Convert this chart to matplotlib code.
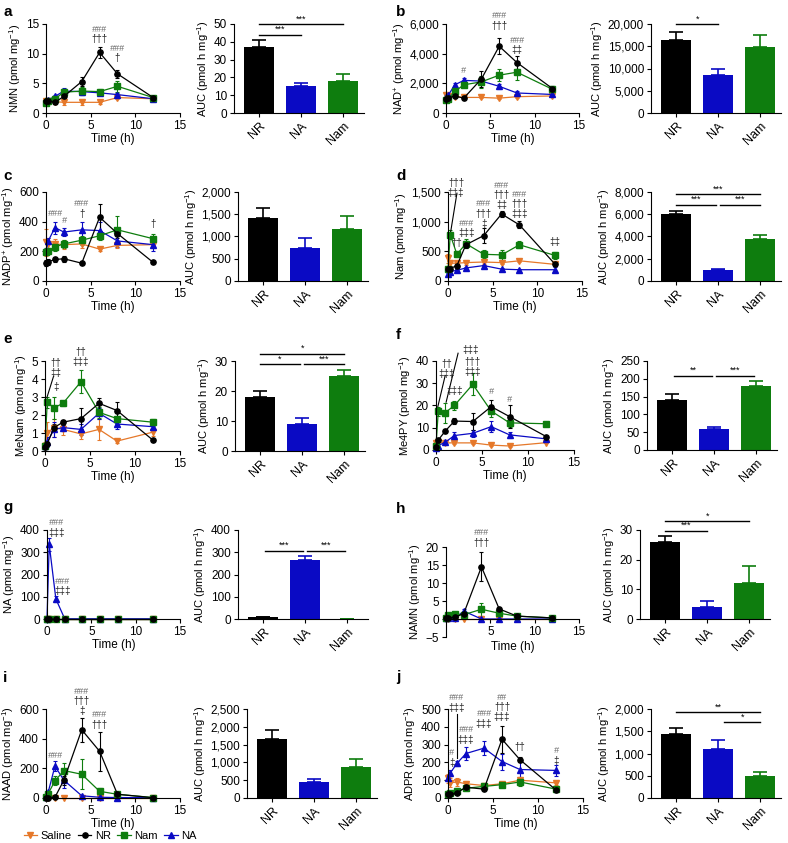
import matplotlib
matplotlib.use('Agg')
import matplotlib.pyplot as plt
from matplotlib.ticker import FuncFormatter
from matplotlib.lines import Line2D

plt.rcParams['font.family'] = ['Liberation Sans', 'DejaVu Sans']
plt.rcParams['mathtext.fontset'] = 'custom'
plt.rcParams['mathtext.rm'] = 'Liberation Sans'
plt.rcParams['font.size'] = 8
plt.rcParams['xtick.labelsize'] = 8.5
plt.rcParams['ytick.labelsize'] = 8.5
plt.rcParams['axes.linewidth'] = 0.8
plt.rcParams['xtick.major.size'] = 3
plt.rcParams['ytick.major.size'] = 3
plt.rcParams['xtick.major.pad'] = 2
plt.rcParams['ytick.major.pad'] = 2

# time points (h)
T = [0, 0.25, 1, 2, 4, 6, 8, 12]
groups = ['Saline', 'NR', 'Nam', 'NA']
bar_groups = ['NR', 'NA', 'Nam']
colors = {'Saline': '#E5782A', 'NR': '#000000', 'Nam': '#0E7D0E', 'NA': '#0A0AC4'}
markers = {'Saline': 'v', 'NR': 'o', 'Nam': 's', 'NA': '^'}

# a - NMN
nmn = {'Saline': [2.0, 2.0, 1.9, 1.8, 1.8, 1.8, 2.6, 2.4],
       'NR': [2.0, 2.1, 1.8, 2.8, 5.3, 10.2, 6.6, 2.6],
       'Nam': [1.7, 2.0, 2.4, 3.5, 3.7, 3.6, 4.5, 2.6],
       'NA': [2.0, 2.2, 2.8, 3.7, 3.6, 3.4, 3.1, 2.4]}
nmn_sem = {'Saline': [0.3, 0.3, 0.3, 0.5, 0.4, 0.3, 0.3, 0.2],
           'NR': [0.3, 0.3, 0.3, 0.5, 0.8, 0.9, 0.7, 0.2],
           'Nam': [0.3, 0.3, 0.3, 0.5, 0.6, 0.5, 0.9, 0.2],
           'NA': [0.2, 0.3, 0.3, 0.5, 0.5, 0.3, 0.2, 0.2]}
nmn_auc = [37, 15, 18]
nmn_auc_sem = [4, 2, 4]

# b - NAD+
nad = {'Saline': [1200, 1150, 1100, 1050, 1050, 1000, 1100, 1150],
       'NR': [950, 1000, 1150, 1000, 2300, 4500, 3400, 1650],
       'Nam': [900, 950, 1450, 1900, 2100, 2550, 2750, 1600],
       'NA': [1100, 1200, 1900, 2200, 2150, 1800, 1350, 1250]}
nad_sem = {'Saline': [200, 200, 100, 50, 50, 50, 80, 80],
           'NR': [150, 150, 100, 100, 550, 550, 450, 200],
           'Nam': [100, 100, 150, 150, 400, 400, 550, 250],
           'NA': [100, 100, 100, 150, 150, 150, 150, 100]}
nad_auc = [16300, 8600, 14800]
nad_auc_sem = [2000, 1200, 2800]

# c - NADP+
nadp = {'Saline': [260, 250, 250, 245, 250, 215, 240, 245],
        'NR': [120, 130, 145, 150, 120, 430, 320, 125],
        'Nam': [195, 200, 230, 250, 275, 305, 345, 285],
        'NA': [200, 270, 360, 330, 345, 340, 270, 245]}
nadp_sem = {'Saline': [90, 40, 30, 30, 30, 10, 20, 20],
            'NR': [20, 20, 15, 20, 5, 90, 30, 5],
            'Nam': [20, 20, 30, 25, 30, 30, 90, 30],
            'NA': [20, 20, 40, 25, 55, 60, 40, 40]}
nadp_auc = [1420, 740, 1160]
nadp_auc_sem = [230, 220, 310]

# d - Nam
nam = {'Saline': [380, 300, 300, 310, 320, 310, 340, 280],
       'NR': [200, 210, 260, 610, 765, 1130, 945, 280],
       'Nam': [200, 780, 450, 630, 450, 440, 610, 430],
       'NA': [120, 160, 180, 220, 260, 200, 190, 190]}
nam_sem = {'Saline': [80, 60, 40, 40, 30, 30, 20, 30],
           'NR': [40, 40, 50, 60, 120, 50, 60, 30],
           'Nam': [40, 80, 50, 70, 70, 80, 60, 60],
           'NA': [20, 20, 20, 20, 15, 15, 15, 40]}
nam_auc = [6000, 1000, 3800]
nam_auc_sem = [300, 100, 300]

# e - MeNam
menam = {'Saline': [0.3, 1.0, 1.3, 1.2, 0.95, 1.2, 0.55, 1.05],
         'NR': [0.2, 0.4, 1.3, 1.6, 1.8, 2.65, 2.25, 0.6],
         'Nam': [0.3, 2.7, 2.4, 2.65, 3.85, 2.15, 1.8, 1.6],
         'NA': [0.3, 0.5, 1.2, 1.3, 1.2, 2.1, 1.5, 1.35]}
menam_sem = {'Saline': [0.2, 0.6, 0.5, 0.3, 0.3, 0.6, 0.1, 0.2],
             'NR': [0.1, 0.1, 0.2, 0.15, 0.6, 0.3, 0.5, 0.05],
             'Nam': [0.1, 0.3, 0.6, 0.15, 0.65, 0.3, 0.3, 0.2],
             'NA': [0.1, 0.3, 0.4, 0.15, 0.3, 0.3, 0.3, 0.2]}
menam_auc = [18, 9, 25]
menam_auc_sem = [2, 2, 2]

# f - Me4PY
me4py = {'Saline': [3, 3.5, 3.2, 3.2, 3.2, 2.2, 1.8, 3.3],
         'NR': [1.5, 4.5, 8.5, 13, 12.8, 19.5, 15, 6],
         'Nam': [2, 17.5, 16.8, 20, 29.5, 17.5, 12.2, 11.8],
         'NA': [1, 2, 3.5, 6.5, 7.5, 10.5, 6.8, 5]}
me4py_sem = {'Saline': [1, 0.5, 0.5, 0.5, 0.5, 0.3, 0.3, 0.3],
             'NR': [0.5, 1, 1, 1.5, 4, 3, 5, 0.5],
             'Nam': [1, 2, 4.5, 2, 5, 2.5, 2, 0.5],
             'NA': [0.5, 0.5, 1, 1.5, 1.5, 2.5, 1.5, 0.5]}
me4py_auc = [140, 58, 180]
me4py_auc_sem = [18, 7, 14]

# g - NA
na = {'Saline': [1, 1, 1, 1, 1, 1, 1, 1],
      'NR': [1, 1, 1, 1, 1, 1, 1, 1],
      'Nam': [1, 1, 1, 1, 1, 1, 1, 1],
      'NA': [0, 335, 90, 1, 1, 1, 1, 1]}
na_sem = {'Saline': [0.5] * 8, 'NR': [0.5] * 8, 'Nam': [0.5] * 8,
          'NA': [0, 30, 15, 2, 1, 1, 1, 1]}
na_auc = [8, 265, 0]
na_auc_sem = [3, 18, 0]

# h - NAMN
namn = {'Saline': [0.1, 0.1, 0.1, 0.1, 0.1, 0.1, 0.1, 0.1],
        'NR': [0.2, 0.3, 0.5, 1.5, 14.5, 2.8, 0.8, 0.3],
        'Nam': [0.3, 1.2, 1.3, 1.2, 2.7, 1.6, 0.8, 0.3],
        'NA': [0.2, 0.2, 0.2, 2.2, 0.0, 0.0, 0.0, 0.0]}
namn_sem = {'Saline': [0.1] * 8,
            'NR': [0.1, 0.1, 0.2, 0.3, 4, 0.3, 0.2, 0.1],
            'Nam': [0.2, 0.3, 0.3, 0.3, 1.8, 1.0, 0.2, 0.1],
            'NA': [0.1, 0.1, 0.1, 0.5, 0.1, 0.1, 0.1, 0.1]}
namn_auc = [26, 4, 12]
namn_auc_sem = [2, 2, 6]

# i - NAAD
naad = {'Saline': [3, 3, 3, 3, 3, 3, 3, 3],
        'NR': [0, 2, 5, 120, 460, 315, 25, 2],
        'Nam': [5, 30, 115, 185, 160, 45, 25, 3],
        'NA': [5, 40, 215, 120, 15, 5, 3, 2]}
naad_sem = {'Saline': [2] * 8,
            'NR': [1, 2, 2, 30, 80, 130, 10, 2],
            'Nam': [2, 5, 30, 50, 100, 20, 5, 2],
            'NA': [2, 10, 35, 55, 5, 2, 2, 1]}
naad_auc = [1650, 450, 870]
naad_auc_sem = [270, 90, 220]

# j - ADPR
adpr = {'Saline': [110, 85, 90, 80, 70, 80, 100, 85],
        'NR': [25, 20, 30, 60, 50, 330, 215, 45],
        'Nam': [25, 30, 40, 55, 65, 75, 90, 50],
        'NA': [110, 140, 195, 250, 280, 205, 160, 155]}
adpr_sem = {'Saline': [25, 25, 20, 15, 10, 10, 15, 10],
            'NR': [5, 5, 5, 5, 5, 75, 15, 5],
            'Nam': [5, 5, 5, 5, 5, 10, 25, 10],
            'NA': [15, 15, 15, 35, 40, 45, 40, 30]}
adpr_auc = [1430, 1100, 500]
adpr_auc_sem = [150, 210, 90]

W, H = 788, 843
fig = plt.figure(figsize=(W / 100, H / 100), dpi=100)


def px_axes(box):
    x0, x1, ytop, ybot = box
    return fig.add_axes([x0 / W, 1 - ybot / H, (x1 - x0) / W, (ybot - ytop) / H])


comma = FuncFormatter(lambda v, p: f'{v:,.0f}'.replace('-', '\u2212'))
unit = r' (pmol mg$^{-1}$)'
auc_label = r'AUC (pmol h mg$^{-1}$)'

# significance marks: (time, y of top row, rows stacked downward)
panels = [
    dict(letter='a', lxy=(3, 12), name='NMN', m=nmn, s=nmn_sem, auc=nmn_auc, auc_s=nmn_auc_sem,
         lbox=(46, 180, 24, 113), bbox=(234, 364, 24, 113),
         ylim=(0, 15), yt=[0, 5, 10, 15], bylim=(0, 50), byt=[0, 10, 20, 30, 40, 50],
         notes=[(6, 14.1, ['###', '†††']), (8, 10.9, ['###', '†'])],
         sig=[(0, 2, 50, '***'), (0, 1, 44, '***')], ptr=[]),
    dict(letter='b', lxy=(396, 12), name=r'NAD$^{+}$', m=nad, s=nad_sem, auc=nad_auc, auc_s=nad_auc_sem,
         lbox=(446, 579, 24, 113), bbox=(651, 781, 24, 113),
         ylim=(0, 6000), yt=[0, 2000, 4000, 6000], bylim=(0, 20000), byt=[0, 5000, 10000, 15000, 20000],
         notes=[(2, 2850, ['#']), (6, 6560, ['###', '†††']), (8, 4900, ['###', '‡‡'])],
         sig=[(0, 1, 19900, '*')], ptr=[]),
    dict(letter='c', lxy=(3, 176), name=r'NADP$^{+}$', m=nadp, s=nadp_sem, auc=nadp_auc, auc_s=nadp_auc_sem,
         lbox=(46, 180, 192, 281), bbox=(238, 368, 192, 281),
         ylim=(0, 600), yt=[0, 200, 400, 600], bylim=(0, 2000), byt=[0, 500, 1000, 1500, 2000],
         notes=[(1, 454, ['###']), (2, 410, ['#']), (4, 521, ['###', '†']), (12, 387, ['†'])],
         sig=[], ptr=[]),
    dict(letter='d', lxy=(396, 176), name='Nam', m=nam, s=nam_sem, auc=nam_auc, auc_s=nam_auc_sem,
         lbox=(448, 582, 192, 281), bbox=(651, 781, 192, 281),
         ylim=(0, 1500), yt=[0, 500, 1000, 1500], bylim=(0, 8000), byt=[0, 2000, 4000, 6000, 8000],
         notes=[(0.9, 1660, ['†††', '‡‡‡']), (2.1, 973, ['###', '‡‡‡']), (1.0, 640, ['††']),
                (4, 1300, ['###', '†††', '‡']), (6, 1610, ['###', '†††', '‡‡']),
                (8, 1460, ['###', '†††', '‡‡‡']), (12, 650, ['‡‡'])],
         sig=[(0, 2, 7800, '***'), (0, 0.95, 6850, '***'), (1.05, 2, 6850, '***')],
         ptr=[([0.3, 1.0], [830, 1480])]),
    dict(letter='e', lxy=(3, 339), name='MeNam', m=menam, s=menam_sem, auc=menam_auc, auc_s=menam_auc_sem,
         lbox=(45, 180, 361, 451), bbox=(235, 365, 361, 451),
         ylim=(0, 5), yt=[0, 1, 2, 3, 4, 5], bylim=(0, 30), byt=[0, 10, 20, 30],
         notes=[(1.2, 4.87, ['††', '‡‡']), (1.2, 3.57, ['‡']), (4, 5.5, ['††', '‡‡‡'])],
         sig=[(0, 2, 32.5, '*'), (0, 0.95, 29, '*'), (1.05, 2, 29, '***')],
         ptr=[([0.2, 0.95], [2.95, 4.15])]),
    dict(letter='f', lxy=(396, 335), name='Me4PY', m=me4py, s=me4py_sem, auc=me4py_auc, auc_s=me4py_auc_sem,
         lbox=(436, 574, 361, 450), bbox=(647, 777, 361, 450),
         ylim=(0, 40), yt=[0, 10, 20, 30, 40], bylim=(0, 250), byt=[0, 50, 100, 150, 200, 250],
         notes=[(1.2, 38.7, ['††', '‡‡‡']), (3.8, 44.8, ['‡‡‡']), (4, 39.4, ['†††', '‡‡‡']),
                (2, 26.5, ['‡‡‡']), (6, 26.2, ['#']), (8, 22.9, ['#'])],
         sig=[(0.05, 0.95, 209, '**'), (1.05, 1.95, 209, '***')],
         ptr=[([0.2, 1.0], [19.5, 33.5]), ([1.1, 2.4], [21.5, 43.5])]),
    dict(letter='g', lxy=(3, 507), name='NA', m=na, s=na_sem, auc=na_auc, auc_s=na_auc_sem,
         lbox=(47, 180, 530, 619), bbox=(238, 368, 530, 619),
         ylim=(0, 400), yt=[0, 100, 200, 300, 400], bylim=(0, 400), byt=[0, 100, 200, 300, 400],
         notes=[(1.1, 433, ['###', '‡‡‡']), (1.7, 169, ['###', '‡‡‡'])],
         sig=[(0.05, 0.95, 307, '***'), (1.05, 1.95, 307, '***')], ptr=[]),
    dict(letter='h', lxy=(396, 509), name='NAMN', m=namn, s=namn_sem, auc=namn_auc, auc_s=namn_auc_sem,
         lbox=(446, 579, 547, 637), bbox=(640, 770, 530, 619),
         ylim=(-5, 20), yt=[-5, 0, 5, 10, 15, 20], bylim=(0, 30), byt=[0, 10, 20, 30],
         notes=[(4, 23.9, ['###', '†††'])],
         sig=[(0, 2, 33, '*'), (0, 1, 29.8, '***')], ptr=[]),
    dict(letter='i', lxy=(3, 678), name='NAAD', m=naad, s=naad_sem, auc=naad_auc, auc_s=naad_auc_sem,
         lbox=(46, 180, 709, 798), bbox=(247, 377, 709, 798),
         ylim=(0, 600), yt=[0, 200, 400, 600], bylim=(0, 2500), byt=[0, 500, 1000, 1500, 2000, 2500],
         notes=[(1, 285, ['###']), (4, 719, ['###', '†††', '‡']), (6, 562, ['###', '†††'])],
         sig=[], ptr=[]),
    dict(letter='j', lxy=(396, 677), name='ADPR', m=adpr, s=adpr_sem, auc=adpr_auc, auc_s=adpr_auc_sem,
         lbox=(448, 583, 709, 798), bbox=(651, 781, 709, 798),
         ylim=(0, 500), yt=[0, 100, 200, 300, 400, 500], bylim=(0, 2000), byt=[0, 500, 1000, 1500, 2000],
         notes=[(0.9, 562, ['###', '‡‡‡']), (0.4, 253, ['#', '‡']), (2, 384, ['###', '‡‡‡']),
                (4, 474, ['###', '‡‡‡']), (6, 567, ['##', '†††', '‡‡‡']), (8, 285, ['††']),
                (12, 266, ['#', '‡'])],
         sig=[(0, 2, 1925, '**'), (1.15, 2, 1700, '*')],
         ptr=[([1.05, 1.05], [470, 225])]),
]

for p in panels:
    # time course
    ax = px_axes(p['lbox'])
    for g in ['Saline', 'NA', 'Nam', 'NR']:
        ax.errorbar(T, p['m'][g], yerr=p['s'][g], color=colors[g], marker=markers[g],
                    ms=3.8, lw=0.9, elinewidth=0.8, capsize=1.5, capthick=0.8)
    for art in ax.lines + ax.collections:
        art.set_clip_on(False)
    ax.set_xlim(0, 15)
    ax.set_ylim(*p['ylim'])
    ax.set_yticks(p['yt'])
    ax.yaxis.set_major_formatter(comma)
    if p['letter'] == 'h':
        ax.set_xticks([5, 10, 15])
        ax.spines['bottom'].set_position(('data', 0))
    else:
        ax.set_xticks([0, 5, 10, 15])
    ax.spines[['top', 'right']].set_visible(False)
    ax.set_xlabel('Time (h)', labelpad=1, fontsize=8.5)
    ax.set_ylabel(p['name'] + unit, labelpad=2)
    if p['letter'] == 'h':
        ax.xaxis.set_label_coords(0.5, -0.04)
    for x, y, rows in p['notes']:
        for k, t in enumerate(rows):
            if '#' in t:
                kw = dict(fontsize=6.5, style='italic', color='#6a6a6a')
            else:
                kw = dict(fontsize=7, color='#222222')
            ax.annotate(t, xy=(x, y), xytext=(0, -7.2 * k), textcoords='offset points',
                        ha='center', va='center', annotation_clip=False, **kw)
    for xs, ys in p['ptr']:
        ax.plot(xs, ys, color='k', lw=0.8, clip_on=False)

    # AUC bars
    bx = px_axes(p['bbox'])
    bcols = [colors[g] for g in bar_groups]
    xs = range(len(bar_groups))
    bx.bar(xs, p['auc'], width=0.72, color=bcols)
    for i in xs:
        bx.errorbar(i, p['auc'][i], yerr=[[0], [p['auc_s'][i]]], fmt='none',
                    ecolor=bcols[i], elinewidth=1.2, capsize=5, capthick=1.2)
    bx.set_xlim(-0.6, 2.5)
    bx.set_ylim(*p['bylim'])
    bx.set_yticks(p['byt'])
    bx.yaxis.set_major_formatter(comma)
    bx.set_xticks(list(xs))
    bx.set_xticklabels(bar_groups, rotation=45, ha='right', rotation_mode='anchor', fontsize=9)
    bx.spines[['top', 'right']].set_visible(False)
    bx.set_ylabel(auc_label, labelpad=2)
    for i, j, y, lab in p['sig']:
        bx.plot([i, j], [y, y], color='k', lw=1.0, clip_on=False)
        bx.annotate(lab, xy=((i + j) / 2, y), xytext=(0, 0.5), textcoords='offset points',
                    ha='center', va='bottom', fontsize=6.5, annotation_clip=False)

    fig.text(p['lxy'][0] / W, 1 - p['lxy'][1] / H, p['letter'], fontsize=11,
             fontweight='bold', va='center', ha='left')

handles = [Line2D([], [], color=colors[g], marker=markers[g], ms=3.8, lw=0.9) for g in groups]
fig.legend(handles, groups, loc='center', bbox_to_anchor=(110 / W, 1 - 836 / H), ncol=4,
           frameon=False, handlelength=1.2, handletextpad=0.3, columnspacing=0.6, fontsize=8)

fig.savefig('out.png', dpi=100)
